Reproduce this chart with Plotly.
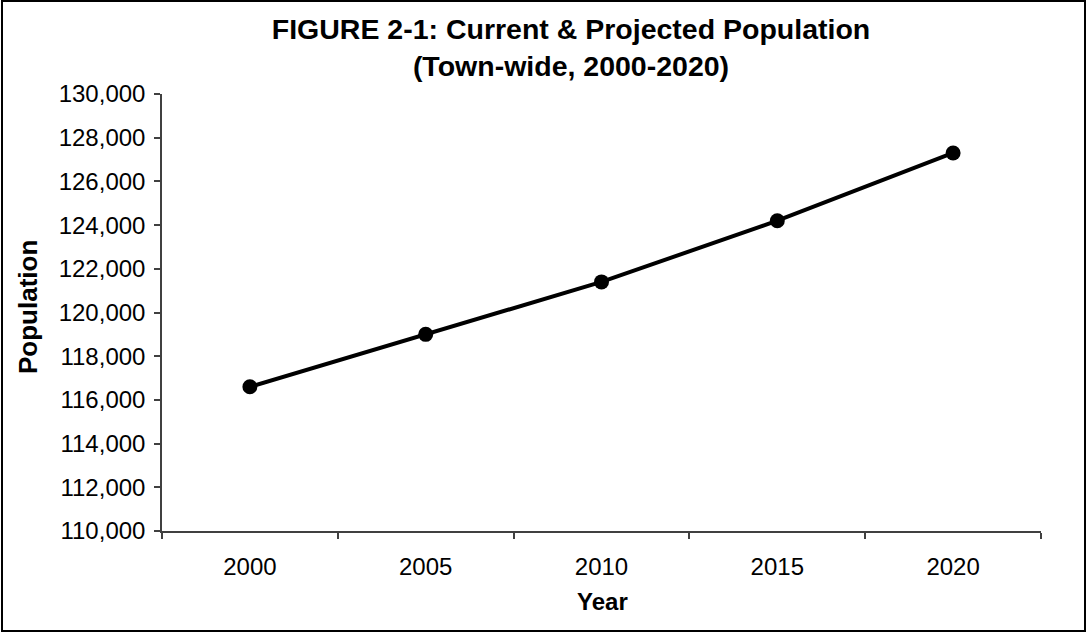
import plotly.graph_objects as go

years = ["2000", "2005", "2010", "2015", "2020"]
population = [116600, 119000, 121400, 124200, 127300]

title_line1 = "FIGURE 2-1: Current & Projected Population"
title_line2 = "(Town-wide, 2000-2020)"
x_title = "Year"
y_title = "Population"

W, H = 1087, 632
L, R, T, B = 162, 46, 94, 101
pw, ph = W - L - R, H - T - B

def px_x(px):
    return (px - L) / pw

def px_y(py):
    return (H - B - py) / ph

fig = go.Figure()
fig.add_trace(go.Scatter(
    x=years, y=population, mode="lines+markers",
    line=dict(color="black", width=4),
    marker=dict(color="black", size=15, symbol="circle"),
    showlegend=False, hoverinfo="x+y",
))

font_family = "Liberation Sans, Arial, sans-serif"

fig.update_layout(
    width=W, height=H,
    margin=dict(l=L, r=R, t=T, b=B, autoexpand=False),
    paper_bgcolor="white", plot_bgcolor="white",
    font=dict(family=font_family, color="black", size=24),
    title=dict(
        text=f"<b>{title_line1}</b><br><b>{title_line2}</b>",
        font=dict(size=28.5, family=font_family, color="black"),
        x=px_x(571), xref="paper", xanchor="center",
        y=1 - 39 / H, yref="container", yanchor="middle",
    ),
    xaxis=dict(
        type="category", range=[-0.5, 4.5],
        tickson="boundaries", ticks="outside", ticklen=6, tickwidth=1.5,
        tickcolor="#404040", showline=True, linecolor="#404040", linewidth=1.5,
        showgrid=False, zeroline=False,
        tickfont=dict(size=24), ticklabelstandoff=13,
    ),
    yaxis=dict(
        range=[110000, 130000], dtick=2000, tick0=110000, tickformat=",",
        ticks="outside", ticklen=6, tickwidth=1.5, tickcolor="#404040",
        showline=True, linecolor="#404040", linewidth=1.5,
        showgrid=False, zeroline=False,
        tickfont=dict(size=24), ticklabelstandoff=4,
    ),
    annotations=[
        dict(text=f"<b>{x_title}</b>", xref="paper", yref="paper",
             x=px_x(602.5), y=px_y(601.7), xanchor="center", yanchor="middle",
             showarrow=False, font=dict(size=24, family=font_family, color="black")),
        dict(text=f"<b>{y_title}</b>", xref="paper", yref="paper",
             x=px_x(28), y=px_y(307), xanchor="center", yanchor="middle",
             textangle=-90, showarrow=False,
             font=dict(size=26, family=font_family, color="black")),
    ],
    shapes=[
        dict(type="rect", xref="paper", yref="paper",
             x0=px_x(2), x1=px_x(1085), y0=px_y(631), y1=px_y(1),
             line=dict(color="black", width=2), fillcolor="rgba(0,0,0,0)",
             layer="below"),
    ],
)

fig.write_html("out.html")
